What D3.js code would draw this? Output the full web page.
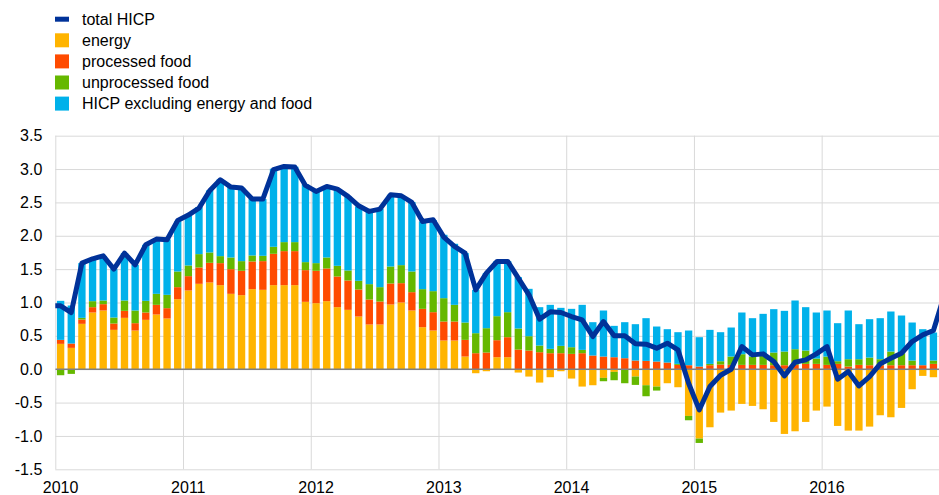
<!DOCTYPE html>
<html>
<head>
<meta charset="utf-8">
<script src="https://cdn.jsdelivr.net/npm/d3@7"></script>
<style>
	body { margin: 0; background: #fff; }
	svg { display: block; font-family: Arial, "Liberation Sans", sans-serif; }
	.grid line { stroke: #d9d9d9; stroke-width: 1; }
	.grid path { display: none; }
	.axis path, .axis line { display: none; }
	.axis text { font-size: 16px; fill: #000; font-family: Arial, "Liberation Sans", sans-serif; }
	.legend text { font-size: 16px; fill: #000; }
</style>
</head>
<body>
<div class="chart"></div>
<script>
	// Data: monthly contributions, Jan 2010 - Nov 2016 (percentage points)
	var years = [2010, 2011, 2012, 2013, 2014, 2015, 2016];

	var energy = [
		0.38, 0.32, 0.68, 0.85, 0.88, 0.59, 0.77, 0.58, 0.74, 0.82, 0.76, 1.05,
		1.18, 1.28, 1.30, 1.26, 1.13, 1.11, 1.20, 1.19, 1.26, 1.26, 1.26, 1.01,
		0.99, 1.02, 0.93, 0.89, 0.79, 0.67, 0.67, 0.97, 1.00, 0.88, 0.63, 0.58,
		0.43, 0.43, 0.19, -0.06, -0.03, 0.18, 0.18, -0.05, -0.11, -0.20, -0.12, -0.03,
		-0.14, -0.26, -0.24, -0.13, -0.04, 0.00, -0.11, -0.24, -0.26, -0.21, -0.27, -0.70,
		-1.04, -0.87, -0.65, -0.62, -0.52, -0.55, -0.60, -0.79, -0.97, -0.93, -0.79, -0.62,
		-0.56, -0.85, -0.92, -0.92, -0.86, -0.69, -0.72, -0.58, -0.30, -0.10, -0.12
	];

	var processedFood = [
		0.06, 0.065, 0.065, 0.08, 0.095, 0.095, 0.105, 0.11, 0.11, 0.145, 0.155, 0.18,
		0.215, 0.245, 0.295, 0.33, 0.37, 0.365, 0.415, 0.43, 0.47, 0.51, 0.51, 0.475,
		0.485, 0.49, 0.46, 0.44, 0.405, 0.375, 0.345, 0.315, 0.29, 0.275, 0.275, 0.275,
		0.285, 0.285, 0.25, 0.24, 0.25, 0.255, 0.30, 0.295, 0.28, 0.255, 0.24, 0.24,
		0.23, 0.24, 0.205, 0.19, 0.18, 0.165, 0.13, 0.125, 0.115, 0.10, 0.065, 0.06,
		0.04, 0.06, 0.07, 0.065, 0.065, 0.065, 0.065, 0.06, 0.06, 0.065, 0.08, 0.08,
		0.065, 0.08, 0.04, 0.065, 0.06, 0.06, 0.06, 0.06, 0.06, 0.06, 0.08
	];

	var unprocessedFood = [
		-0.09, -0.07, 0.025, 0.09, 0.055, 0.09, 0.155, 0.19, 0.175, 0.165, 0.20, 0.235,
		0.16, 0.20, 0.155, 0.105, 0.175, 0.145, 0.09, 0.08, 0.105, 0.135, 0.135, 0.12,
		0.115, 0.165, 0.16, 0.15, 0.13, 0.23, 0.215, 0.255, 0.27, 0.31, 0.295, 0.315,
		0.35, 0.25, 0.26, 0.30, 0.365, 0.36, 0.375, 0.315, 0.215, 0.10, 0.065, 0.11,
		0.10, 0.05, 0.00, -0.05, -0.125, -0.21, -0.125, -0.165, -0.06, 0.00, 0.015, -0.065,
		-0.065, 0.02, 0.05, 0.125, 0.16, 0.125, 0.15, 0.19, 0.205, 0.235, 0.20, 0.08,
		0.125, 0.04, 0.11, 0.085, 0.115, 0.09, 0.205, 0.18, 0.07, 0.00, 0.05
	];

	var coreHicp = [
		0.585, 0.57, 0.82, 0.625, 0.665, 0.725, 0.71, 0.685, 0.84, 0.825, 0.83, 0.75,
		0.75, 0.705, 0.93, 1.15, 1.06, 1.10, 0.85, 0.85, 1.17, 1.14, 1.13, 1.165,
		1.075, 1.065, 1.15, 1.11, 1.115, 1.095, 1.175, 1.075, 1.035, 1.04, 1.015, 1.065,
		0.95, 0.915, 1.04, 0.65, 0.825, 0.825, 0.765, 0.77, 0.71, 0.575, 0.66, 0.57,
		0.575, 0.675, 0.50, 0.69, 0.47, 0.54, 0.545, 0.64, 0.525, 0.50, 0.475, 0.52,
		0.44, 0.51, 0.435, 0.435, 0.625, 0.575, 0.615, 0.65, 0.61, 0.73, 0.65, 0.69,
		0.69, 0.57, 0.73, 0.525, 0.575, 0.615, 0.60, 0.565, 0.57, 0.54, 0.42
	];

	// total HICP, Dec 2009 - Dec 2016 (first and last points fall outside the plot)
	var totalHicp = [
		0.95,
		0.95, 0.85, 1.59, 1.655, 1.70, 1.50, 1.74, 1.565, 1.865, 1.95, 1.94, 2.23,
		2.31, 2.415, 2.675, 2.84, 2.73, 2.715, 2.55, 2.55, 2.99, 3.04, 3.03, 2.755,
		2.665, 2.74, 2.70, 2.59, 2.45, 2.365, 2.40, 2.615, 2.60, 2.50, 2.215, 2.24,
		1.98, 1.84, 1.74, 1.19, 1.44, 1.615, 1.615, 1.365, 1.115, 0.75, 0.86, 0.85,
		0.79, 0.74, 0.49, 0.715, 0.50, 0.50, 0.38, 0.375, 0.315, 0.39, 0.29, -0.21,
		-0.61, -0.26, -0.09, 0.00, 0.34, 0.215, 0.23, 0.115, -0.10, 0.105, 0.14, 0.23,
		0.34, -0.15, -0.035, -0.25, -0.11, 0.08, 0.165, 0.24, 0.415, 0.515, 0.58, 1.1
	];

	var yTicks = [-1.5, -1.0, -0.5, 0.0, 0.5, 1.0, 1.5, 2.0, 2.5, 3.0, 3.5];

	var keys = ['energy', 'processed', 'unprocessed', 'core'];
	var legendLabels = ['total HICP', 'energy', 'processed food', 'unprocessed food', 'HICP excluding energy and food'];
	var colors = {energy: '#ffb400', processed: '#ff4b00', unprocessed: '#65b800', core: '#00b1ea', total: '#003299'};

	// Defining SVG
	var margin = {top: 135.7, right: 0, bottom: 25.7, left: 55.3};
	var width = 939 - margin.left - margin.right;
	var height = 495 - margin.top - margin.bottom;

	var svg = d3.select('.chart')
		.append('svg')
		.attr('width', 939)
		.attr('height', 495);

	var g = svg.append('g')
		.attr('transform', 'translate(' + margin.left + ',' + margin.top + ')');

	// Scales: x in months since Jan 2010 (the axis runs on to Jan 2017, past the right edge)
	var xScale = d3.scaleLinear().domain([0, 84]).range([0, 894.1]);
	var yScale = d3.scaleLinear().domain([-1.5, 3.5]).range([height, 0]);

	// gridlines
	g.append('g')
		.attr('class', 'grid')
		.call(d3.axisLeft(yScale).tickValues(yTicks).tickSize(-width).tickFormat(''));

	g.append('g')
		.attr('class', 'grid')
		.attr('transform', 'translate(0,' + height + ')')
		.call(d3.axisBottom(xScale).tickValues(years.map(function(y, i){ return i * 12; }))
			.tickSize(height).tickSizeOuter(0).tickFormat(''))
		.selectAll('line').attr('y2', -height);

	// axes labels
	g.append('g')
		.attr('class', 'y axis')
		.call(d3.axisLeft(yScale).tickValues(yTicks).tickSize(0).tickPadding(13)
			.tickFormat(function(d){ return d.toFixed(1); }));

	g.append('g')
		.attr('class', 'x axis')
		.attr('transform', 'translate(0,' + height + ')')
		.call(d3.axisBottom(xScale).tickValues(years.map(function(y, i){ return i * 12 + 0.45; }))
			.tickSize(0).tickPadding(12)
			.tickFormat(function(d){ return years[Math.floor(d / 12)]; }));

	// clip everything to the plot area
	g.append('clipPath').attr('id', 'plotClip')
		.append('rect')
		.attr('x', 0).attr('y', -20)
		.attr('width', width).attr('height', height + 40);

	var plot = g.append('g').attr('clip-path', 'url(#plotClip)');

	// stacked bars
	var rows = energy.map(function(d, i){
		return {i: i, energy: d, processed: processedFood[i], unprocessed: unprocessedFood[i], core: coreHicp[i]};
	});

	var stacked = d3.stack().keys(keys).offset(d3.stackOffsetDiverging)(rows);
	var band = xScale(1) - xScale(0);
	var barWidth = band * 0.69;

	plot.selectAll('.layer')
		.data(stacked)
		.enter().append('g')
		.attr('class', 'layer')
		.attr('fill', function(d){ return colors[d.key]; })
		.selectAll('rect')
		.data(function(d){ return d; })
		.enter().append('rect')
		.attr('x', function(d){ return xScale(d.data.i + 0.5) - barWidth / 2; })
		.attr('y', function(d){ return yScale(Math.max(d[0], d[1])); })
		.attr('width', barWidth)
		.attr('height', function(d){ return Math.abs(yScale(d[0]) - yScale(d[1])); });

	// zero line
	plot.append('line')
		.attr('x1', 0).attr('x2', width)
		.attr('y1', yScale(0)).attr('y2', yScale(0))
		.attr('stroke', '#808080')
		.attr('stroke-width', 1.5);

	// total HICP line (index 0 is Dec 2009)
	var line = d3.line()
		.x(function(d, i){ return xScale(i - 0.5); })
		.y(function(d){ return yScale(d); });

	plot.append('path')
		.datum(totalHicp)
		.attr('fill', 'none')
		.attr('stroke', colors.total)
		.attr('stroke-width', 5)
		.attr('stroke-linejoin', 'round')
		.attr('d', line);

	// legend
	var legend = svg.append('g').attr('class', 'legend');
	var legendColors = [colors.total, colors.energy, colors.processed, colors.unprocessed, colors.core];

	legendLabels.forEach(function(label, k){
		var cy = 19.2 + k * 21.1;
		if (k === 0) {
			legend.append('rect').attr('x', 55).attr('y', cy - 2.5).attr('width', 14).attr('height', 5)
				.attr('fill', legendColors[k]);
		} else {
			legend.append('rect').attr('x', 55).attr('y', cy - 7).attr('width', 14).attr('height', 14)
				.attr('fill', legendColors[k]);
		}
		legend.append('text')
			.attr('x', 82)
			.attr('y', cy)
			.attr('dy', '0.35em')
			.text(label);
	});
</script>
</body>
</html>
